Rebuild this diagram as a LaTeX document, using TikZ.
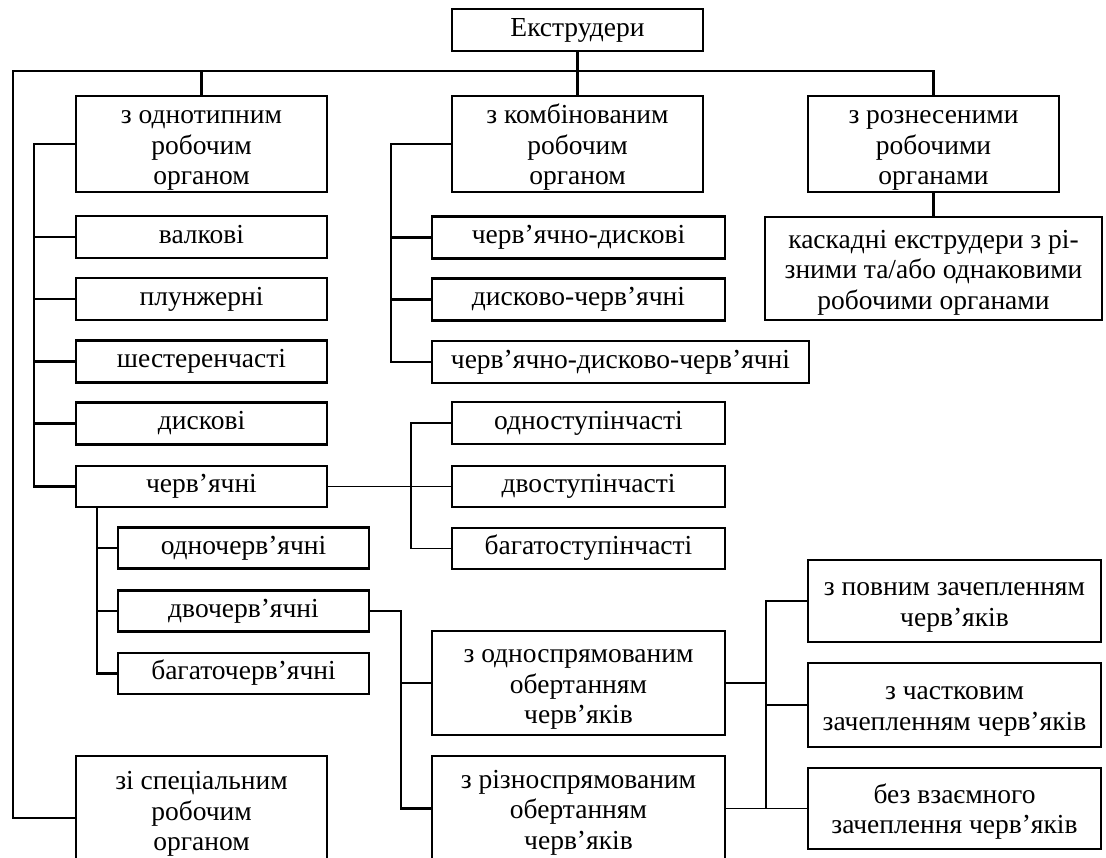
\documentclass[tikz,border=0pt]{standalone}
\usepackage{fontspec}
\setmainfont{Liberation Serif}
\newcommand\bxt[1]{\begin{tabular}{@{}c@{}}#1\end{tabular}}
\newcommand\bxm[1]{\raisebox{-4pt}[\height][\depth]{\begin{tabular}{@{}c@{}}#1\end{tabular}}}
\begin{document}
\begin{tikzpicture}[x=1pt,y=-1pt,
  bx/.style={draw, line width=2.6pt, inner sep=0pt,
    font=\fontsize{27.5}{30.5}\selectfont},
  ln/.style={line width=2.1pt},
  thin/.style={line width=1.6pt}]
\useasboundingbox[fill=white] (0,0) rectangle (1106,857);
% top
\node[bx, minimum width=251, minimum height=42] (ekstr) at (577.5,30) {\bxt{Екструдери}};
% level 1
\node[bx, minimum width=251, minimum height=96] (odn) at (201.5,144) {\bxm{з однотипним\\робочим\\органом}};
\node[bx, minimum width=251, minimum height=96] (komb) at (577.5,144) {\bxm{з комбінованим\\робочим\\органом}};
\node[bx, minimum width=251, minimum height=96] (rozn) at (933.5,144) {\bxm{з рознесеними\\робочими\\органами}};
\node[bx, minimum width=251, minimum height=108] (spec) at (201.5,810) {\bxm{зі спеціальним\\робочим\\органом}};
% left column
\node[bx, minimum width=251, minimum height=42] (valk) at (201.5,237) {\bxt{валкові}};
\node[bx, minimum width=251, minimum height=42] (plun) at (201.5,299) {\bxt{плунжерні}};
\node[bx, minimum width=251, minimum height=42] (shest) at (201.5,361.5) {\bxt{шестеренчасті}};
\node[bx, minimum width=251, minimum height=42] (disk) at (201.5,423.5) {\bxt{дискові}};
\node[bx, minimum width=251, minimum height=41] (cherv) at (201.5,486.5) {\bxt{черв’ячні}};
\node[bx, minimum width=251, minimum height=41] (odnoch) at (243.5,548) {\bxt{одночерв’ячні}};
\node[bx, minimum width=251, minimum height=41] (dvoch) at (243.5,611) {\bxt{двочерв’ячні}};
\node[bx, minimum width=251, minimum height=41] (bagch) at (243.5,673.5) {\bxt{багаточерв’ячні}};
% combined
\node[bx, minimum width=293, minimum height=42] (chd) at (578.5,237.5) {\bxt{черв’ячно-дискові}};
\node[bx, minimum width=293, minimum height=42] (dch) at (578.5,299.5) {\bxt{дисково-черв’ячні}};
\node[bx, minimum width=377, minimum height=42] (chdch) at (620.5,362) {\bxt{черв’ячно-дисково-черв’ячні}};
% stages
\node[bx, minimum width=273, minimum height=42] (odnost) at (588.5,423) {\bxt{одноступінчасті}};
\node[bx, minimum width=273, minimum height=41] (dvost) at (588.5,486.5) {\bxt{двоступінчасті}};
\node[bx, minimum width=273, minimum height=41] (bagst) at (588.5,548.5) {\bxt{багатоступінчасті}};
% cascade
\node[bx, minimum width=337, minimum height=103] (kask) at (933.5,268.5) {\bxm{каскадні екструдери з рі-\\зними та/або однаковими\\робочими органами}};
% twin screw
\node[bx, minimum width=293, minimum height=104] (odnospr) at (578.5,683) {\bxm{з односпрямованим\\обертанням\\черв’яків}};
\node[bx, minimum width=293, minimum height=105] (riznospr) at (578.5,808.5) {\bxm{з різноспрямованим\\обертанням\\черв’яків}};
\node[bx, minimum width=293, minimum height=82] (povn) at (954.5,601) {\bxm{з повним зачепленням\\черв’яків}};
\node[bx, minimum width=293, minimum height=84] (chastk) at (954.5,705) {\bxm{з частковим\\зачепленням черв’яків}};
\node[bx, minimum width=293, minimum height=81] (bez) at (954.5,808.5) {\bxm{без взаємного\\зачеплення черв’яків}};
% trunk coordinates
\coordinate (busL) at (13,71);
\coordinate (tL) at (34,0);
\coordinate (tS) at (97,0);
\coordinate (tC) at (391,0);
\coordinate (tSt) at (411,0);
\coordinate (tD) at (401,0);
\coordinate (tR) at (766,0);
% connectors
\draw[ln] (ekstr) -- (komb);
\draw[ln] ([yshift=-8pt]spec.west) -| (busL) -| (rozn.north);
\draw[ln] (odn.north) -- (odn.north |- busL);
\draw[ln] (rozn) -- (kask);
% left trunk
\draw[ln] (odn.west) -- (odn.west -| tL) -- (cherv.west -| tL) -- (cherv.west);
\foreach \n in {valk,plun,shest,disk} \draw[ln] (\n.west) -- (\n.west -| tL);
% worm sub trunk
\draw[ln] (cherv.south -| tS) -- (bagch.west -| tS) -- (bagch.west);
\foreach \n in {odnoch,dvoch} \draw[ln] (\n.west) -- (\n.west -| tS);
% combined trunk
\draw[ln] (komb.west) -- (komb.west -| tC) -- (chdch.west -| tC) -- (chdch.west);
\foreach \n in {chd,dch} \draw[ln] (\n.west) -- (\n.west -| tC);
% stages
\draw[thin] (cherv.east) -- (dvost.west);
\draw[thin] (odnost.west) -- (odnost.west -| tSt) -- (bagst.west -| tSt) -- (bagst.west);
% twin screw
\draw[ln] (dvoch.east) -- (dvoch.east -| tD) -- (riznospr.west -| tD) -- (riznospr.west);
\draw[ln] (odnospr.west) -- (odnospr.west -| tD);
\draw[thin] (povn.west) -- (povn.west -| tR) -- (bez.west -| tR);
\draw[thin] (chastk.west) -- (chastk.west -| tR);
\draw[thin] (odnospr.east) -- (odnospr.east -| tR);
\draw[thin] (riznospr.east) -- (bez.west);
\end{tikzpicture}
\end{document}
